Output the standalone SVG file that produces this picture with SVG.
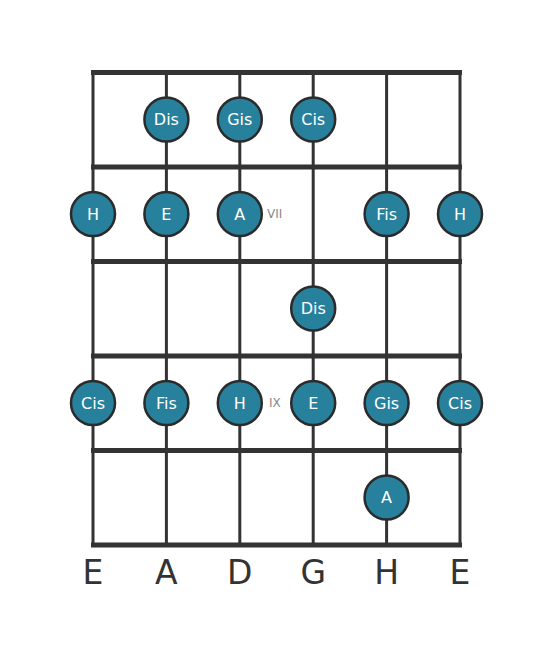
<svg xmlns="http://www.w3.org/2000/svg" width="553" height="656" viewBox="0 0 553 656">
<style>
.fret{stroke:#333;stroke-width:5}
.str{stroke:#333;stroke-width:3}
.n circle{fill:#27809c;stroke:#2b2b2b;stroke-width:2.5}
.n text{fill:#fff;font-family:"DejaVu Sans",sans-serif;font-size:16px;text-anchor:middle;dominant-baseline:central}
.pos{fill:#888;font-family:"DejaVu Sans",sans-serif;font-size:12px;dominant-baseline:central}
.sn{fill:#333;font-family:"DejaVu Sans",sans-serif;font-size:33px;text-anchor:middle}
</style>
<rect width="553" height="656" fill="#fff"/>
<g id="connectors">
<line class="str" x1="93" y1="72" x2="93" y2="545"/>
<line class="str" x1="166.4" y1="72" x2="166.4" y2="545"/>
<line class="str" x1="239.8" y1="72" x2="239.8" y2="545"/>
<line class="str" x1="313.2" y1="72" x2="313.2" y2="545"/>
<line class="str" x1="386.6" y1="72" x2="386.6" y2="545"/>
<line class="str" x1="460" y1="72" x2="460" y2="545"/>
<line class="fret" x1="91" y1="72.5" x2="462" y2="72.5"/>
<line class="fret" x1="91" y1="167" x2="462" y2="167"/>
<line class="fret" x1="91" y1="261.5" x2="462" y2="261.5"/>
<line class="fret" x1="91" y1="356" x2="462" y2="356"/>
<line class="fret" x1="91" y1="450.5" x2="462" y2="450.5"/>
<line class="fret" x1="91" y1="545" x2="462" y2="545"/>
</g>
<g id="n1" class="n"><circle cx="166.4" cy="119.5" r="22"/><text x="166.4" y="119.5">Dis</text></g>
<g id="n2" class="n"><circle cx="239.8" cy="119.5" r="22"/><text x="239.8" y="119.5">Gis</text></g>
<g id="n3" class="n"><circle cx="313.2" cy="119.5" r="22"/><text x="313.2" y="119.5">Cis</text></g>
<g id="n4" class="n"><circle cx="93" cy="214" r="22"/><text x="93" y="214">H</text></g>
<g id="n5" class="n"><circle cx="166.4" cy="214" r="22"/><text x="166.4" y="214">E</text></g>
<g id="n6" class="n"><circle cx="239.8" cy="214" r="22"/><text x="239.8" y="214">A</text></g>
<g id="n7" class="n"><circle cx="386.6" cy="214" r="22"/><text x="386.6" y="214">Fis</text></g>
<g id="n8" class="n"><circle cx="460" cy="214" r="22"/><text x="460" y="214">H</text></g>
<g id="n9" class="n"><circle cx="313.2" cy="308.5" r="22"/><text x="313.2" y="308.5">Dis</text></g>
<g id="n10" class="n"><circle cx="93" cy="403" r="22"/><text x="93" y="403">Cis</text></g>
<g id="n11" class="n"><circle cx="166.4" cy="403" r="22"/><text x="166.4" y="403">Fis</text></g>
<g id="n12" class="n"><circle cx="239.8" cy="403" r="22"/><text x="239.8" y="403">H</text></g>
<g id="n13" class="n"><circle cx="313.2" cy="403" r="22"/><text x="313.2" y="403">E</text></g>
<g id="n14" class="n"><circle cx="386.6" cy="403" r="22"/><text x="386.6" y="403">Gis</text></g>
<g id="n15" class="n"><circle cx="460" cy="403" r="22"/><text x="460" y="403">Cis</text></g>
<g id="n16" class="n"><circle cx="386.6" cy="497.5" r="22"/><text x="386.6" y="497.5">A</text></g>
<text class="pos" x="267" y="214">VII</text>
<text class="pos" x="269" y="403">IX</text>
<g id="labels">
<text class="sn" x="93" y="584">E</text>
<text class="sn" x="166.4" y="584">A</text>
<text class="sn" x="239.8" y="584">D</text>
<text class="sn" x="313.2" y="584">G</text>
<text class="sn" x="386.6" y="584">H</text>
<text class="sn" x="460" y="584">E</text>
</g>
</svg>
